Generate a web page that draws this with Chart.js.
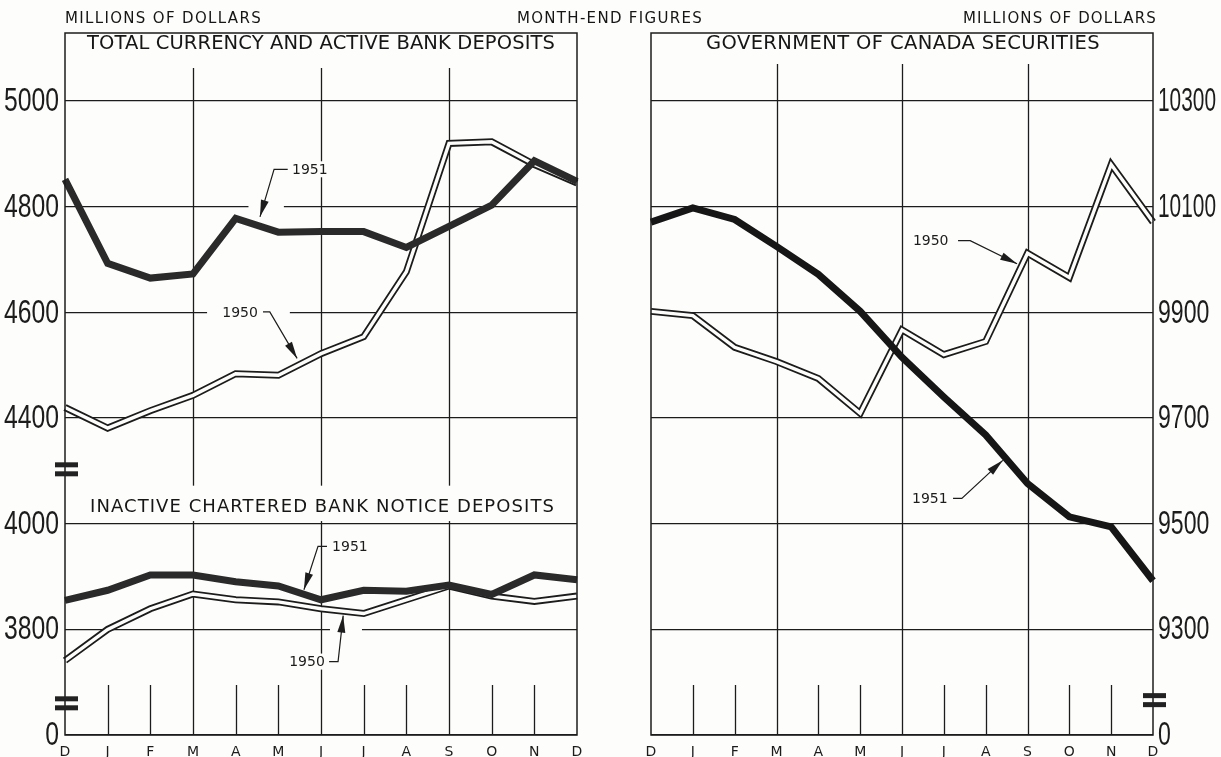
<!DOCTYPE html>
<html>
<head>
<meta charset="utf-8">
<script src="https://cdn.jsdelivr.net/npm/chart.js@4.4.1/dist/chart.umd.min.js"></script>
<style>
  body { margin: 0; background: #fdfdfb; }
  #wrap { position: relative; width: 1221px; height: 757px; overflow: hidden; background: #fdfdfb; color: #161616;
          font-family: 'DejaVu Sans', sans-serif; }
  canvas { position: absolute; top: 0; }
  .txt { position: absolute; white-space: nowrap; line-height: 1; }
  .hd { font-size: 15px; }
  .ttl { font-size: 19.5px; }
</style>
</head>
<body>
<div id="wrap">
  <canvas id="left" width="610" height="757" style="left:0"></canvas>
  <canvas id="right" width="611" height="757" style="left:610px"></canvas>

  <div class="txt hd" style="left:65px;top:11px" data-w="197">MILLIONS OF DOLLARS</div>
  <div class="txt hd" style="left:517px;top:11px" data-w="186">MONTH-END FIGURES</div>
  <div class="txt hd" style="left:963px;top:11px" data-w="194">MILLIONS OF DOLLARS</div>

  <div class="txt ttl" style="left:87px;top:33px" data-w="468">TOTAL CURRENCY AND ACTIVE BANK DEPOSITS</div>
  <div class="txt ttl" style="left:706px;top:33px" data-w="394">GOVERNMENT OF CANADA SECURITIES</div>
  <div class="txt ttl" style="left:90px;top:497px;font-size:18px" data-w="465">INACTIVE CHARTERED BANK NOTICE DEPOSITS</div>
</div>

<script>
// month-end figures, Dec 1950 .. Dec 1951 (millions of dollars)
const months = ['D', 'J', 'F', 'M', 'A', 'M', 'J', 'J', 'A', 'S', 'O', 'N', 'D'];

// total currency and active bank deposits
const active1950 = [4420, 4381, 4414, 4443, 4484, 4481, 4522, 4554, 4677, 4920, 4923, 4880, 4845];
const active1951 = [4852, 4693, 4665, 4673, 4778, 4752, 4753, 4753, 4723, 4763, 4803, 4887, 4848];

// inactive chartered bank notice deposits
const inactive1950 = [3741, 3800, 3839, 3867, 3856, 3852, 3839, 3830, 3856, 3882, 3863, 3853, 3863];
const inactive1951 = [3855, 3874, 3903, 3903, 3890, 3882, 3856, 3874, 3872, 3884, 3866, 3903, 3894];

// government of canada securities
const govt1950 = [9902, 9894, 9834, 9807, 9775, 9709, 9867, 9820, 9845, 10012, 9966, 10180, 10071];
const govt1951 = [10071, 10098, 10076, 10025, 9972, 9902, 9815, 9740, 9668, 9576, 9513, 9494, 9392];

// broken axes: the left scale runs on the upper chart's values (lower chart sits 200 higher),
// its bottom stands for 0; same for the right one
const leftTickValues = [3800, 4000, 4200, 4400, 4600, 4800, 5000];
const leftTickLabels = ['0', '3800', '4000', '4400', '4600', '4800', '5000'];
const rightTickValues = [9100, 9300, 9500, 9700, 9900, 10100, 10300];
const rightTickLabels = ['0', '9300', '9500', '9700', '9900', '10100', '10300'];

const INK = '#1c1c1c';
const PAPER = '#fdfdfb';

// labels with leader arrows, in data units [month index, value]; gaps = blanked grid pieces [i0, i1, value]
const leftNotes = [
  { text: '1951', axis: 'y', at: [5.32, 4871], align: 'left', path: [[5.22, 4871], [4.90, 4871], [4.57, 4781]],
    gaps: [[4.30, 5.13, 4800]] },
  { text: '1950', axis: 'y', at: [4.52, 4601], align: 'right', path: [[4.64, 4601], [4.80, 4601], [5.44, 4513]],
    gaps: [[3.33, 5.27, 4600]] },
  { text: '1951', axis: 'yLow', at: [6.26, 3957], align: 'left', path: [[6.14, 3957], [5.93, 3957], [5.60, 3875]],
    gaps: [] },
  { text: '1950', axis: 'yLow', at: [6.09, 3739], align: 'right', path: [[6.19, 3739], [6.40, 3739], [6.52, 3826]],
    gaps: [[6.21, 6.96, 3800]] }
];
const rightNotes = [
  { text: '1950', axis: 'y', at: [6.26, 10036], align: 'left', path: [[7.34, 10036], [7.63, 10036], [8.75, 9992]], gaps: [] },
  { text: '1951', axis: 'y', at: [6.24, 9548], align: 'left', path: [[7.22, 9548], [7.43, 9548], [8.41, 9620]], gaps: [] }
];

function decor(opts) {
  const pt = (chart, axis, p) => [chart.scales.x.getPixelForValue(p[0]), chart.scales[axis].getPixelForValue(p[1])];
  return {
    id: 'decor',
    beforeDatasetsDraw(chart) {
      const { ctx, chartArea: a, scales } = chart;
      ctx.save();
      // month rules: full height at quarters, short ticks for the rest
      ctx.strokeStyle = INK;
      ctx.lineWidth = 1.3;
      months.forEach((m, i) => {
        if (i === 0 || i === months.length - 1) return;
        const px = Math.round(scales.x.getPixelForValue(i)) + 0.5;
        const top = i % 3 === 0 ? opts.quarterTop : a.bottom - 50;
        ctx.beginPath();
        ctx.moveTo(px, top);
        ctx.lineTo(px, a.bottom);
        ctx.stroke();
      });
      ctx.fillStyle = PAPER;
      // blank strip behind the lower title
      if (opts.band) {
        const y1 = scales.y.getPixelForValue(opts.band[1]);
        const y2 = scales.y.getPixelForValue(opts.band[0]);
        ctx.fillRect(a.left + 1, y1, a.right - a.left - 2, y2 - y1);
      }
      // gaps in the grid under the notes
      ctx.font = '14px DejaVu Sans';
      opts.notes.forEach(n => {
        const [tx, ty] = pt(chart, n.axis, n.at);
        const w = ctx.measureText(n.text).width;
        const x0 = n.align === 'left' ? tx - 3 : tx - w - 3;
        ctx.fillRect(x0, ty - 8, w + 6, 16);
        n.gaps.forEach(g => {
          const [gx0, gy] = pt(chart, n.axis, [g[0], g[2]]);
          const gx1 = chart.scales.x.getPixelForValue(g[1]);
          ctx.fillRect(gx0, gy - 2, gx1 - gx0, 4);
        });
      });
      ctx.restore();
    },
    afterDatasetsDraw(chart) {
      const { ctx, chartArea: a, scales } = chart;
      ctx.save();
      // frame
      ctx.strokeStyle = INK;
      ctx.lineWidth = 1.5;
      ctx.strokeRect(a.left, a.top, a.right - a.left, a.bottom - a.top);
      // notes with arrows
      ctx.font = '14px DejaVu Sans';
      ctx.textBaseline = 'middle';
      ctx.fillStyle = INK;
      opts.notes.forEach(n => {
        const [tx, ty] = pt(chart, n.axis, n.at);
        ctx.textAlign = n.align;
        ctx.fillText(n.text, tx, ty + 1);
        const pts = n.path.map(p => pt(chart, n.axis, p));
        ctx.lineWidth = 1.2;
        ctx.beginPath();
        pts.forEach((p, k) => k ? ctx.lineTo(p[0], p[1]) : ctx.moveTo(p[0], p[1]));
        ctx.stroke();
        const tip = pts[pts.length - 1], prev = pts[pts.length - 2];
        const len = Math.hypot(tip[0] - prev[0], tip[1] - prev[1]);
        const dx = (tip[0] - prev[0]) / len, dy = (tip[1] - prev[1]) / len;
        const bx = tip[0] - dx * 17, by = tip[1] - dy * 17;
        ctx.beginPath();
        ctx.moveTo(tip[0], tip[1]);
        ctx.lineTo(bx - dy * 4, by + dx * 4);
        ctx.lineTo(bx + dy * 4, by - dx * 4);
        ctx.closePath();
        ctx.fill();
      });
      // tick labels, narrow lettering like the original
      const left = opts.axisSide === 'left';
      const ax = left ? a.left : a.right;
      ctx.font = '33px Liberation Sans';
      ctx.textAlign = left ? 'right' : 'left';
      opts.tickValues.forEach((v, i) => {
        ctx.save();
        ctx.translate(left ? ax - 6 : ax + 5, scales.y.getPixelForValue(v) + 1);
        ctx.scale(opts.narrow, 1);
        ctx.fillText(opts.tickLabels[i], 0, 0, 58 / opts.narrow);
        ctx.restore();
      });
      // axis break marks
      opts.breaks.forEach(v => {
        const cy = scales.y.getPixelForValue(v);
        ctx.fillStyle = '#222';
        ctx.fillRect(ax - 10, cy - 7, 23, 5);
        ctx.fillRect(ax - 10, cy + 2, 23, 5);
      });
      ctx.restore();
    }
  };
}

// order: higher numbers are drawn first
function lineSet(data, axis, color, width, order) {
  return { data, yAxisID: axis, borderColor: color, borderWidth: width, pointRadius: 0, order,
           tension: 0, borderJoinStyle: 'miter', borderCapStyle: 'butt', fill: false };
}

function xScale() {
  return {
    offset: false,
    grid: { display: false },
    border: { display: false },
    ticks: { autoSkip: false, maxRotation: 0, padding: 1, color: INK, font: { family: 'DejaVu Sans', size: 14 } },
    afterFit: s => { s.height = 22; }
  };
}

function yScale(pos, min, max, values, width) {
  return {
    position: pos,
    min, max,
    afterBuildTicks: s => { s.ticks = values.map(v => ({ value: v })); },
    grid: { color: INK, lineWidth: 1.3, drawTicks: false },
    border: { display: false },
    ticks: { display: false },
    afterFit: s => { s.width = width; }
  };
}

const common = {
  responsive: false,
  animation: false,
  devicePixelRatio: 1,
  plugins: { legend: { display: false }, tooltip: { enabled: false } }
};

new Chart(document.getElementById('left'), {
  type: 'line',
  data: {
    labels: months,
    datasets: [
      lineSet(active1950, 'y', INK, 7, 3),
      lineSet(active1950, 'y', PAPER, 3.4, 2),
      lineSet(inactive1950, 'yLow', INK, 7, 3),
      lineSet(inactive1950, 'yLow', PAPER, 3.4, 2),
      lineSet(active1951, 'y', '#2a2a2a', 7, 1),
      lineSet(inactive1951, 'yLow', '#2a2a2a', 7, 1)
    ]
  },
  options: {
    ...common,
    layout: { padding: { top: 33, right: 33, left: 0, bottom: 0 } },
    scales: {
      x: xScale(),
      y: yScale('left', 3800, 5129, leftTickValues, 65),
      yLow: { type: 'linear', display: false, min: 3600, max: 4929 }
    }
  },
  plugins: [decor({ quarterTop: 68, band: [4205, 4272], notes: leftNotes, axisSide: 'left', breaks: [4303, 3860],
                    tickValues: leftTickValues, tickLabels: leftTickLabels, narrow: 0.75 })]
});

new Chart(document.getElementById('right'), {
  type: 'line',
  data: {
    labels: months,
    datasets: [
      lineSet(govt1950, 'y', INK, 7, 3),
      lineSet(govt1950, 'y', PAPER, 3.4, 2),
      lineSet(govt1951, 'y', '#161616', 7, 1)
    ]
  },
  options: {
    ...common,
    layout: { padding: { top: 33, right: 0, left: 41, bottom: 0 } },
    scales: {
      x: xScale(),
      y: yScale('right', 9100, 10429, rightTickValues, 68)
    }
  },
  plugins: [decor({ quarterTop: 64, notes: rightNotes, axisSide: 'right', breaks: [9166],
                    tickValues: rightTickValues, tickLabels: rightTickLabels, narrow: 0.7 })]
});

// stretch the lettering to the widths of the original
document.querySelectorAll('[data-w]').forEach(el => {
  const n = el.textContent.length;
  const w = el.getBoundingClientRect().width;
  el.style.letterSpacing = ((+el.dataset.w - w) / n) + 'px';
});
</script>
</body>
</html>
